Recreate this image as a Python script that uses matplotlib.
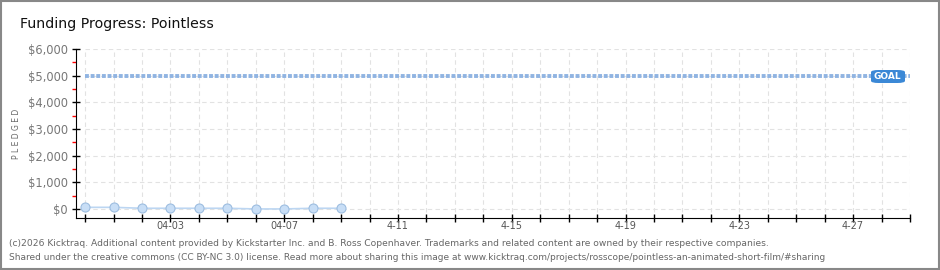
import numpy as np
import matplotlib.pyplot as plt
from matplotlib.patches import FancyBboxPatch, Rectangle

# data
days = list(range(10))
pledged = [60, 60, 25, 25, 25, 25, 0, 0, 25, 25]
goal = 5000
n_days = 30
tick_days = [3, 7, 11, 15, 19, 23, 27]
tick_labels = ['04-03', '04-07', '4-11', '4-15', '4-19', '4-23', '4-27']
y_ticks = [0, 1000, 2000, 3000, 4000, 5000, 6000]
y_labels = ['$0', '$1,000', '$2,000', '$3,000', '$4,000', '$5,000', '$6,000']

fig = plt.figure(figsize=(9.4, 2.7), dpi=100)
ax = fig.add_axes([76 / 940, 52 / 270, 834 / 940, 169 / 270])

# grid
for d in range(n_days):
    ax.plot([d, d], [-120, 6000], color='#e2e2e2', lw=0.8, ls=(0, (4, 3)), zorder=0)
for yv in y_ticks:
    ax.plot([0, n_days - 1], [yv, yv], color='#e2e2e2', lw=0.8, ls=(0, (4, 3)), zorder=0)

# goal line
ax.plot([0, n_days - 1], [goal, goal], color='#90b4e2', lw=2.8, ls=(0, (1.0, 0.45)),
        solid_capstyle='butt', dash_capstyle='butt', zorder=2)

# pledged series
ax.plot(days, pledged, color='#bcd6f2', lw=1.2, marker='o', ms=6.5,
        mfc='#c8def6', mec='#9dbde0', mew=0.8, zorder=3)

ax.set_xlim(-0.32, n_days - 1)
ax.set_ylim(-340, 6000)

for s in ['top', 'right']:
    ax.spines[s].set_visible(False)
ax.spines['left'].set_color('black')
ax.spines['bottom'].set_color('black')

ax.set_xticks(range(n_days))
ax.set_xticklabels(['' for _ in range(n_days)])
ax.tick_params(axis='x', direction='inout', length=6, width=1, color='black')
for d, lab in zip(tick_days, tick_labels):
    ax.text(d, -470, lab, ha='center', va='top', fontsize=7, color='#555555')

ax.set_yticks(y_ticks)
ax.set_yticklabels(y_labels, fontsize=8.3, color='#777777')
ax.tick_params(axis='y', direction='inout', length=6, width=1, color='black', pad=3)
ax.set_yticks([500, 1500, 2500, 3500, 4500, 5500], minor=True)
ax.tick_params(axis='y', which='minor', direction='out', length=3, width=1, color='red')

ax.set_ylabel('P L E D G E D', fontsize=5.5, color='#666666', labelpad=5)

# goal tag
tag = FancyBboxPatch((871 / 940, 1 - 83 / 270), 34 / 940, 13 / 270,
                     boxstyle='round,pad=0,rounding_size=0.008',
                     transform=fig.transFigure, facecolor='#3b88d6', edgecolor='none')
fig.patches.append(tag)
fig.text(887 / 940, 1 - 76.5 / 270, 'GOAL', color='white', fontsize=6.5, fontweight='bold',
         ha='center', va='center')

# title and footer
fig.text(20 / 940, 1 - 24 / 270, 'Funding Progress: Pointless', fontsize=10.2,
         color='#111111', va='center', ha='left')
fig.text(9 / 940, 1 - 243 / 270,
         '(c)2026 Kicktraq. Additional content provided by Kickstarter Inc. and B. Ross Copenhaver. '
         'Trademarks and related content are owned by their respective companies.',
         fontsize=6.6, color='#666666', va='center', ha='left')
fig.text(9 / 940, 1 - 257 / 270,
         'Shared under the creative commons (CC BY-NC 3.0) license. Read more about sharing this image at '
         'www.kicktraq.com/projects/rosscope/pointless-an-animated-short-film/#sharing',
         fontsize=6.5, color='#666666', va='center', ha='left')

# outer frame
fig.patches.append(Rectangle((0.001, 0.002), 0.998, 0.996, transform=fig.transFigure,
                             fill=False, edgecolor='#888888', lw=1.5))

fig.savefig('out.png', dpi=100)
